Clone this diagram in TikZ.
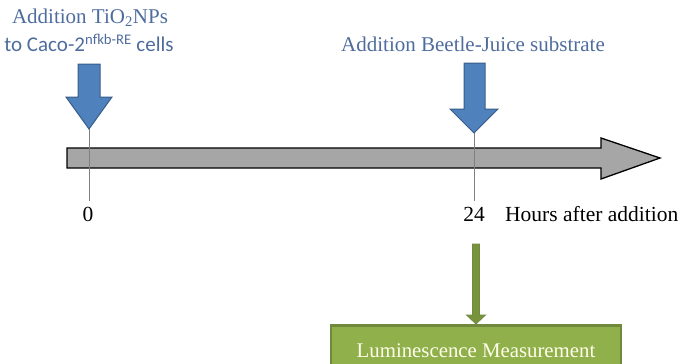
\documentclass[tikz,border=0pt]{standalone}
\usepackage{fontspec}
\setmainfont{Liberation Serif}
\newfontfamily\calib{Carlito}
\definecolor{bluetxt}{RGB}{79,108,158}
\definecolor{bluefill}{RGB}{79,129,189}
\definecolor{blueedge}{RGB}{56,93,138}
\definecolor{grayfill}{RGB}{166,166,166}
\definecolor{greenfill}{RGB}{143,176,74}
\definecolor{greenedge}{RGB}{113,137,63}
\definecolor{greenarrow}{RGB}{119,147,60}
\definecolor{ticklc}{RGB}{128,128,128}
\begin{document}
\begin{tikzpicture}[x=1pt,y=-1pt,
  lbl/.style={inner sep=0pt,font=\fontsize{21}{23}\selectfont},
  bluelbl/.style={lbl,text=bluetxt},
  axislbl/.style={inner sep=0pt,font=\fontsize{21.5}{23}\selectfont,text=black},
  bluearrow/.style={fill=bluefill,draw=blueedge,line width=1pt,line join=miter},
  tick/.style={draw=ticklc,line width=1pt},
  measbox/.style={draw=greenedge,fill=greenfill,line width=2.5pt,minimum width=290pt,minimum height=50pt,anchor=north,text=white!92!yellow,font=\fontsize{20.8}{22}\selectfont,text depth=0pt}]
\useasboundingbox (0,0) rectangle (678,364);
% timeline arrow
\draw[fill=grayfill,draw=black,line width=1.3pt,line join=miter]
  (67,148) -- (601,148) -- (601,138) -- (660,158) -- (601,179) -- (601,168) -- (67,168) -- cycle;
% ticks
\coordinate (t0top) at (89,128);
\coordinate (t0bot) at (89,201);
\coordinate (t24top) at (474,133);
\coordinate (t24bot) at (474,201);
\draw[tick] (t0top) -- (t0bot);
\draw[tick] (t24top) -- (t24bot);
% blue arrows
\draw[bluearrow] (78,64) -- (100,64) -- (100,97) -- (112,97) -- (89,129) -- (66,97) -- (78,97) -- cycle;
\draw[bluearrow] (464,63) -- (485,63) -- (485,109) -- (498,109) -- (474,133) -- (450,109) -- (464,109) -- cycle;
% labels
\node[bluelbl] (l1) at (90,18) {Addition TiO\textsubscript{2}NPs};
\node[bluelbl,font=\calib\fontsize{21}{23}\selectfont] (l2) at (89,43) {to Caco-2\textsuperscript{nfkb-RE} cells};
\node[bluelbl] (l3) at (473,44) {Addition Beetle-Juice substrate};
\node[axislbl] (z) at (88,214) {0};
\node[axislbl] (tf) at (474,214) {24};
\node[axislbl,anchor=west] (hrs) at (505,214) {Hours after addition};
% measurement box
\node[measbox] (meas) at (476,324) {Luminescence Measurement};
\coordinate (ga) at (476,244);
\draw[fill=greenarrow,draw=greenedge,line width=0.8pt]
  ([xshift=-3.5pt]ga) -- ([xshift=3.5pt]ga) -- ([xshift=3.5pt,yshift=-71pt]ga) -- ([xshift=9.5pt,yshift=-71pt]ga)
  -- (meas.north) -- ([xshift=-9.5pt,yshift=-71pt]ga) -- ([xshift=-3.5pt,yshift=-71pt]ga) -- cycle;
\end{tikzpicture}
\end{document}
